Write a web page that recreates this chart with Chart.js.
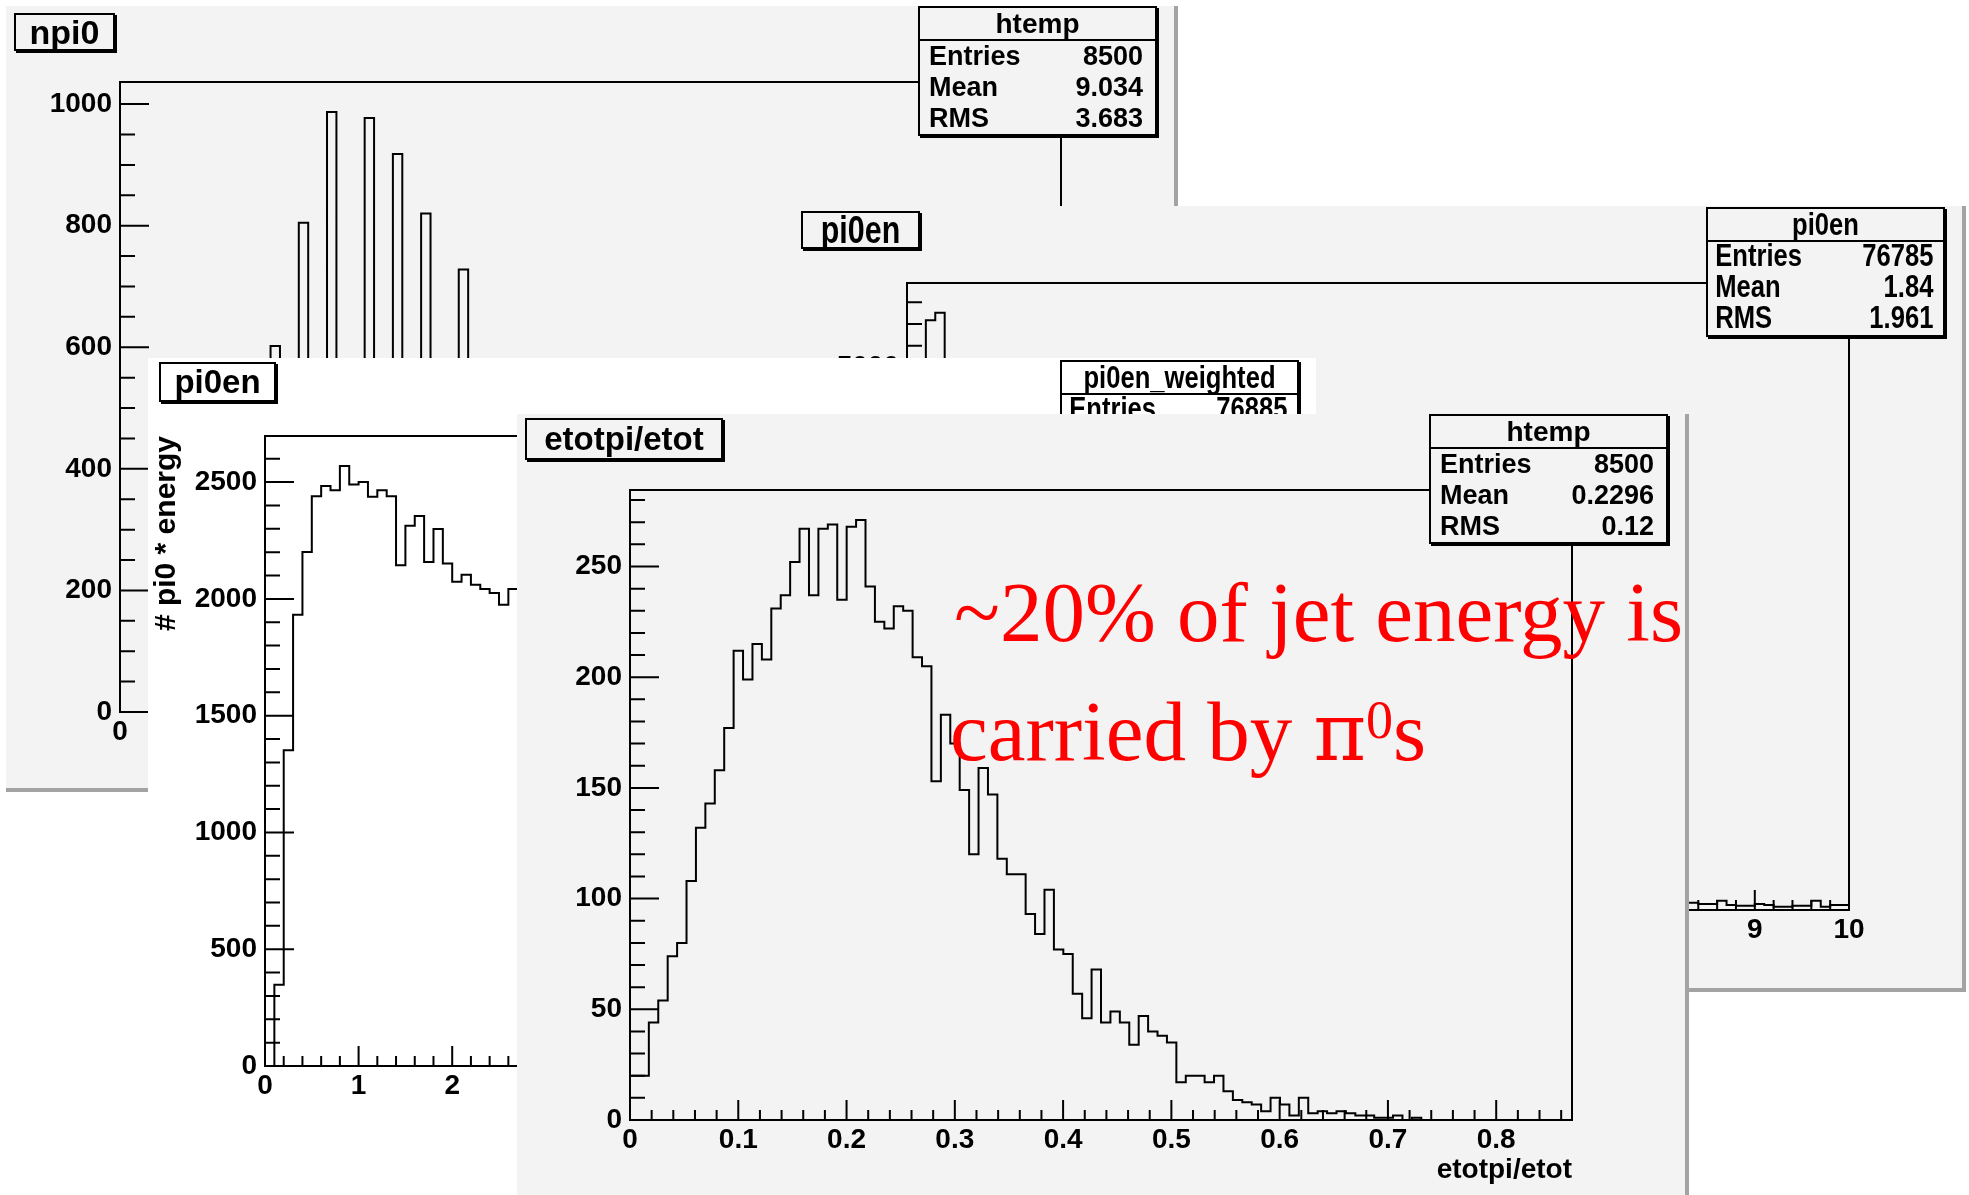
<!DOCTYPE html>
<html lang="en">
<head>
<meta charset="UTF-8">
<title>pi0 content of jets</title>
<script src="https://cdn.jsdelivr.net/npm/chart.js"></script>
<style>
  body { margin: 0; width: 1969px; height: 1195px; position: relative; overflow: hidden; background: #fff;
         font-family: 'Liberation Sans', Arial, sans-serif; }
  .pad { position: absolute; width: 1168px; height: 782px; overflow: hidden; }
  .pad canvas { position: absolute; left: 0; top: 0; }
  .grey { background: #f3f3f3; }
  .white { background: #fff; }
  .edge-r { border-right: 4px solid #a3a3a3; }
  .edge-b { border-bottom: 4px solid #a3a3a3; }
  .pave { position: absolute; box-sizing: border-box; border: 2px solid #000; box-shadow: 2px 2px 0 #000;
          font-weight: bold; color: #000; background: inherit; white-space: nowrap; overflow: hidden; }
  .ttl { text-align: center; }
  .stats { left: 912px; width: 239px; height: 130px; font-size: 27px; }
  .stats .hd { height: 31px; line-height: 31px; text-align: center; border-bottom: 2px solid #000; font-size: 28px; }
  .stats .row { height: 31px; line-height: 31px; display: flex; justify-content: space-between; padding: 0 12px 0 9px; }
  /* condensed lettering, squeezed horizontally */
  .squeeze { transform: scaleX(0.8); transform-origin: 0 0; width: 125%; }
  .squeeze .hd { border-bottom: none; }
  .stats.narrow { font-size: 32px; }
  .stats.narrow .hd { font-size: 32px; }
  .stats .rule { position: absolute; left: 0; right: 0; top: 31px; border-top: 2px solid #000; }
  .note { position: absolute; z-index: 10; font-family: 'Liberation Serif', 'Times New Roman', serif;
          font-size: 85px; line-height: 85px; color: #f00; white-space: nowrap; }
  .note .pi { font-family: 'DejaVu Serif', serif; font-size: 80px; }
  .note .sup { font-size: 54px; position: relative; top: -22px; }
</style>
</head>
<body>

<div class="pad grey edge-r edge-b" style="left:6px; top:6px; z-index:1">
  <canvas id="npi0" width="1168" height="782"></canvas>
  <div class="pave ttl" style="left:8px; top:7px; width:101px; height:38px; font-size:34px; line-height:34px">npi0</div>
  <div class="pave stats" style="top:0">
    <div class="hd">htemp</div>
    <div class="row"><span>Entries</span><span>8500</span></div>
    <div class="row"><span>Mean</span><span>9.034</span></div>
    <div class="row"><span>RMS</span><span>3.683</span></div>
  </div>
</div>

<div class="pad grey edge-r edge-b" style="left:794px; top:206px; z-index:2">
  <canvas id="pi0en" width="1168" height="782"></canvas>
  <div class="pave ttl" style="left:7px; top:5px; width:119px; height:38px; font-size:38px; line-height:34px">
    <div class="squeeze">pi0en</div>
  </div>
  <div class="pave stats narrow" style="top:1px">
    <div class="rule"></div>
    <div class="squeeze">
      <div class="hd">pi0en</div>
      <div class="row"><span>Entries</span><span>76785</span></div>
      <div class="row"><span>Mean</span><span>1.84</span></div>
      <div class="row"><span>RMS</span><span>1.961</span></div>
    </div>
  </div>
</div>

<div class="pad white" style="left:148px; top:358px; z-index:3">
  <canvas id="pi0enW" width="1168" height="782"></canvas>
  <div class="pave ttl" style="left:11px; top:4px; width:117px; height:40px; font-size:33px; line-height:36px">pi0en</div>
  <div class="pave stats narrow" style="top:2px">
    <div class="rule"></div>
    <div class="squeeze">
      <div class="hd">pi0en_weighted</div>
      <div class="row"><span>Entries</span><span>76885</span></div>
    </div>
  </div>
</div>

<div class="pad grey edge-r edge-b" style="left:517px; top:414px; z-index:4">
  <canvas id="frac" width="1168" height="782"></canvas>
  <div class="pave ttl" style="left:8px; top:4px; width:198px; height:42px; font-size:33px; line-height:38px">etotpi/etot</div>
  <div class="pave stats" style="top:0">
    <div class="hd">htemp</div>
    <div class="row"><span>Entries</span><span>8500</span></div>
    <div class="row"><span>Mean</span><span>0.2296</span></div>
    <div class="row"><span>RMS</span><span>0.12</span></div>
  </div>
</div>

<div class="note" style="left:954px; top:570px">~20% of jet energy is</div>
<div class="note" style="left:950px; top:689px">carried by <span class="pi">π</span><span class="sup">0</span>s</div>

<script>
// number of pi0 per jet: 100 bins on [0, 30.5], only the tallest spikes show
const npi0Values = [5, 6, 7, 8, 9, 10, 11];
const npi0Counts = [602, 805, 987, 977, 918, 820, 728];

// pi0 energy, 100 bins on [0, 10]: the peak bins and the high-energy tail
const pi0enPeakBins = [2, 3];
const pi0enPeakCounts = [5436, 5503];
const pi0enTailFirstBin = 83;
const pi0enTailCounts = [66, 55, 55, 86, 47, 39, 39, 55, 47, 31, 31, 39, 39, 86, 31, 47, 47];

// pi0 energy weighted by energy, bins of 0.1 from 0
const pi0enWCounts = [0, 348, 1352, 1932, 2201, 2439, 2483, 2465, 2569, 2490,
                      2500, 2437, 2465, 2439, 2144, 2313, 2355, 2158, 2299, 2152,
                      2073, 2103, 2061, 2042, 2025, 1975, 2042];

// fraction of jet energy carried by pi0s, 100 bins on [0, 0.87]
const fracCounts = [20, 20, 44, 54, 74, 80, 108, 132, 143, 158,
                    177, 212, 199, 215, 208, 231, 237, 252, 267, 237,
                    267, 269, 235, 268, 271, 241, 225, 222, 232, 230,
                    209, 205, 153, 183, 170, 149, 120, 159, 147, 118,
                    111, 111, 93, 84, 104, 77, 75, 57, 46, 68,
                    44, 49, 44, 34, 47, 40, 38, 35, 17, 20,
                    20, 17, 20, 13, 9, 8, 7, 4, 10, 7,
                    2, 10, 3, 4, 3, 4, 3, 2, 2, 1,
                    1, 2, 0, 1, 0, 0, 0, 0, 0, 0,
                    0, 0, 0, 0, 0, 0, 0, 0, 0, 0];

Chart.defaults.font.family = "'Liberation Sans', Arial, sans-serif";
Chart.defaults.color = '#000';

const W = 1168, H = 782;
const tickFont = { size: 28, weight: 'bold', lineHeight: 1 };
const fmt = v => String(Math.round(v * 1000) / 1000);

// outline of a histogram as a stepped line: points sit on the left bin edges
function histLine(x0, width, counts, rise = true, drop = true) {
  const pts = [];
  if (rise) pts.push({ x: x0, y: 0 });
  counts.forEach((c, i) => pts.push({ x: x0 + i * width, y: c }));
  pts.push({ x: x0 + counts.length * width, y: drop ? 0 : counts[counts.length - 1] });
  return pts;
}

function ticksAt(scale, major, minor) {
  const out = [];
  const k0 = Math.ceil(scale.min / minor - 1e-6), k1 = Math.floor(scale.max / minor + 1e-6);
  const per = Math.round(major / minor);
  for (let k = k0; k <= k1; k++) out.push([k * minor, k % per === 0]);
  return out;
}

// ROOT style frame with inward tick marks
const rootFrame = {
  id: 'rootFrame',
  afterDatasetsDraw(chart, args, o) {
    const { ctx, chartArea: a, scales: { x, y } } = chart;
    ctx.save();
    ctx.strokeStyle = '#000';
    ctx.lineWidth = 2;
    ctx.strokeRect(a.left, a.top, a.right - a.left, a.bottom - a.top);
    ctx.beginPath();
    ticksAt(x, o.xMajor, o.xMinor).forEach(([v, big]) => {
      const px = x.getPixelForValue(v);
      ctx.moveTo(px, a.bottom);
      ctx.lineTo(px, a.bottom - (big ? 20 : 10));
    });
    ticksAt(y, o.yMajor, o.yMinor).forEach(([v, big]) => {
      const py = y.getPixelForValue(v);
      ctx.moveTo(a.left, py);
      ctx.lineTo(a.left + (big ? 29 : 15), py);
    });
    ctx.stroke();
    ctx.restore();
  }
};

function histo(id, frame, xs, ys, lines) {
  const xH = xs.title ? 70 : 50;
  const labelsEvery = step => s => { s.ticks = ticksAt(s, step, step).map(([v]) => ({ value: v })); };
  return new Chart(document.getElementById(id), {
    type: 'line',
    data: {
      datasets: lines.map(pts => ({
        data: pts, borderColor: '#000', borderWidth: 2, pointRadius: 0,
        stepped: true, fill: false, tension: 0
      }))
    },
    options: {
      responsive: false, animation: false, devicePixelRatio: 1,
      layout: { padding: { left: 0, top: frame.top, right: W - frame.right, bottom: H - frame.bottom - xH } },
      plugins: {
        legend: { display: false }, tooltip: { enabled: false },
        rootFrame: { xMajor: xs.major, xMinor: xs.minor, yMajor: ys.major, yMinor: ys.minor }
      },
      scales: {
        x: {
          type: 'linear', position: 'bottom', min: xs.min, max: xs.max,
          grid: { display: false, drawTicks: false }, border: { display: false },
          ticks: { autoSkip: false, maxRotation: 0, padding: 6, font: tickFont, callback: fmt },
          title: xs.title
            ? { display: true, text: xs.title, align: 'end', font: { size: 28, weight: 'bold', lineHeight: 1 },
                padding: { top: 0, bottom: 6 } }
            : { display: false },
          afterBuildTicks: labelsEvery(xs.major),
          afterFit: s => { s.height = xH; }
        },
        y: {
          type: 'linear', position: 'left', min: 0, max: ys.max,
          grid: { display: false, drawTicks: false }, border: { display: false },
          ticks: { autoSkip: false, padding: 8, font: tickFont, callback: fmt },
          title: ys.title
            ? { display: true, text: ys.title, align: 'end', font: { size: 30, weight: 'bold', lineHeight: 1 },
                padding: { top: 4, bottom: 0 } }
            : { display: false },
          afterBuildTicks: labelsEvery(ys.major),
          afterFit: s => { s.width = frame.left; }
        }
      }
    },
    plugins: [rootFrame]
  });
}

// npi0: fill the integer counts into their bins
const npi0Width = 0.305;
const npi0Bins = new Array(100).fill(0);
npi0Values.forEach((n, i) => { npi0Bins[Math.floor(n / npi0Width)] = npi0Counts[i]; });
histo('npi0', { left: 114, top: 76, right: 1055, bottom: 706 },
  { min: 0, max: 100 * npi0Width, major: 5, minor: 1 },
  { max: Math.max(...npi0Counts) * 1.05, major: 200, minor: 50 },
  [histLine(0, npi0Width, npi0Bins)]);

// pi0en
histo('pi0en', { left: 113, top: 77, right: 1055, bottom: 704 },
  { min: 0, max: 10, major: 1, minor: 0.2 },
  { max: Math.max(...pi0enPeakCounts) * 1.05, major: 1000, minor: 200 },
  [histLine(pi0enPeakBins[0] * 0.1, 0.1, pi0enPeakCounts),
   histLine(pi0enTailFirstBin * 0.1, 0.1, pi0enTailCounts, false)]);

// pi0en weighted
histo('pi0enW', { left: 117, top: 78, right: 1053, bottom: 708 },
  { min: 0, max: 10, major: 1, minor: 0.2 },
  { max: Math.max(...pi0enWCounts) * 1.05, major: 500, minor: 100, title: '# pi0 * energy' },
  [histLine(0, 0.1, pi0enWCounts, true, false)]);

// etotpi/etot
histo('frac', { left: 113, top: 76, right: 1055, bottom: 706 },
  { min: 0, max: 0.87, major: 0.1, minor: 0.02, title: 'etotpi/etot' },
  { max: Math.max(...fracCounts) * 1.05, major: 50, minor: 10 },
  [histLine(0, 0.0087, fracCounts)]);
</script>
</body>
</html>
